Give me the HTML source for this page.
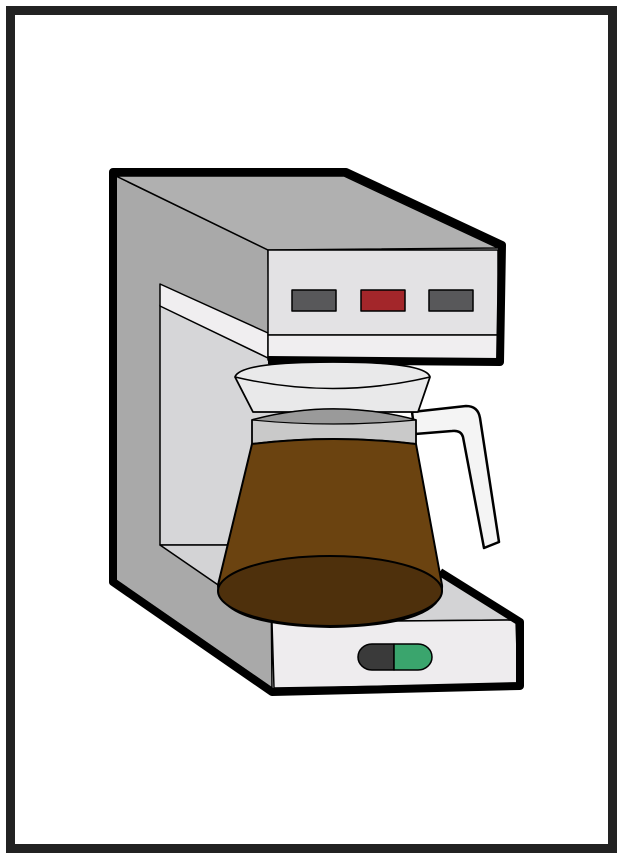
<!DOCTYPE html>
<html><head><style>html,body{margin:0;padding:0;background:#fff}svg{display:block}</style></head>
<body>
<svg width="623" height="859" viewBox="0 0 623 859" xmlns="http://www.w3.org/2000/svg">
<rect x="0" y="0" width="623" height="859" fill="#fff"/>
<rect x="10.5" y="10.5" width="602" height="838" fill="none" stroke="#222" stroke-width="9"/>
<g stroke="#000" stroke-linejoin="round">
<!-- side panel -->
<path d="M116,176 L268,250 L272,688 L116,580 Z" fill="#a9a9a9" stroke-width="1.5"/>
<!-- top face -->
<path d="M116,176 L344,176 L498,248 L268,250 Z" fill="#b0b0b0" stroke-width="1.5"/>
<!-- back wall -->
<path d="M160,305 L268,358 L370,362 L370,545 L160,545 Z" fill="#d6d6d8" stroke-width="1.5"/>
<!-- white band -->
<path d="M160,284 L268,333 L268,358 L160,306 Z" fill="#f0eef0" stroke-width="1.5"/>
<!-- head front -->
<rect x="268" y="250" width="230" height="85" fill="#e3e2e4" stroke-width="1.5"/>
<rect x="268" y="335" width="230" height="25" fill="#f0eef0" stroke-width="1.5"/>
<!-- buttons -->
<rect x="292" y="290" width="44" height="21" fill="#58585a" stroke-width="1.5"/>
<rect x="361" y="290" width="44" height="21" fill="#a3262a" stroke-width="1.5"/>
<rect x="429" y="290" width="44" height="21" fill="#58585a" stroke-width="1.5"/>
<!-- base top -->
<path d="M160,545 L370,545 L440,572 L516,620 L272,622 Z" fill="#d3d3d5" stroke-width="1.5"/>
<!-- base front -->
<path d="M272,622 L516,620 L518,684 L274,688 Z" fill="#eeecee" stroke-width="1.5"/>
<!-- outer thick outline -->
<path d="M268,360 L500,362 L502,245 L346,172 L113,172 L113,582 L272,692 L520,686 L520,622 L440,572" fill="none" stroke-width="8"/>
<!-- switch -->
<path d="M394,644 L372,644 A14,13 0 0 0 372,670 L394,670 Z" fill="#3a3a3a" stroke-width="1.5"/>
<path d="M394,644 L418,644 A14,13 0 0 1 418,670 L394,670 Z" fill="#3aa56d" stroke-width="1.5"/>
<line x1="371" y1="362" x2="371" y2="402" stroke-width="2.5"/>
<!-- handle -->
<path d="M412,412 L466,406 Q478,406 480,418 L499,542 L484,548 L463,437 Q461,430 452,431 L415,434 Z" fill="#f4f4f4" stroke-width="2.5"/>
<!-- funnel -->
<path d="M235,377 Q240,362 333,362 Q426,362 430,377 L418,412 L253,412 Z" fill="#e9e9ea" stroke-width="1.8"/>
<path d="M235,377 Q333,400 430,377" fill="none" stroke-width="1.5"/>
<!-- rim band -->
<path d="M252,420 Q333,398 416,420 L416,444 Q333,434 252,444 Z" fill="#c9c9c9" stroke-width="1.8"/>
<path d="M252,420 Q333,398 416,420 Q333,428 252,420 Z" fill="#9a9a9a" stroke-width="1.2"/>
<!-- body -->
<path d="M252,444 Q333,434 416,444 L442,585 Q445,625 330,627 Q218,625 218,585 Z" fill="#6b4310" stroke-width="2"/>
<ellipse cx="330" cy="591" rx="112" ry="35" fill="#4e300c" stroke-width="2"/>
</g>
</svg>
</body></html>
